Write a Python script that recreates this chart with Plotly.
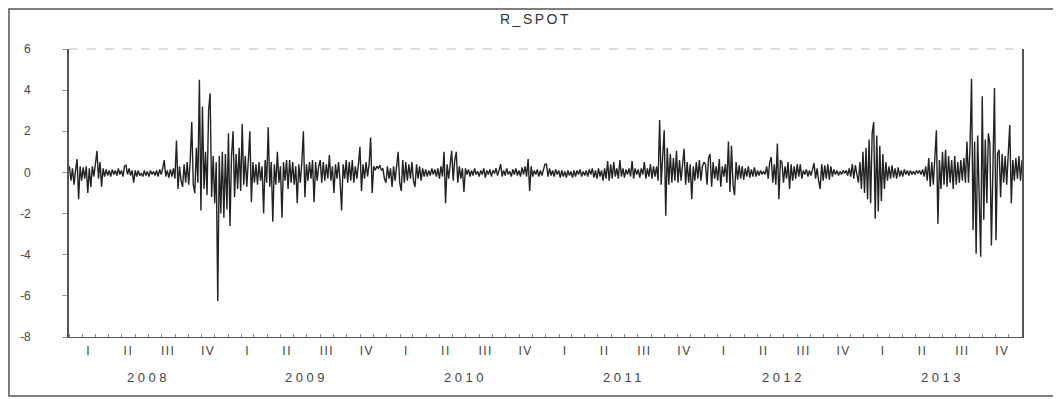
import pandas as pd
import plotly.graph_objects as go

# ---------------- data (~2 obs per week) ----------------
years = [2008, 2009, 2010, 2011, 2012, 2013]
quarters = ["I", "II", "III", "IV"]
y_ticks = [-8, -6, -4, -2, 0, 2, 4, 6]

r_2008 = [0.3, -0.4, 0.2, -0.6, 0.1, 0.65, -1.3, 0.3, -0.4, 0.25, -0.3, 0.3, -1.0, 0.2, -0.7, 0.3,
          -0.2, 0.4, 1.05, -0.3, 0.5, -0.7, 0.2, -0.2, 0.15, -0.15, 0.1, -0.2, 0.15, -0.1, 0.1, -0.15,
          0.2, -0.1, 0.1, -0.2, 0.3, 0.35, -0.1, 0.2, -0.15, 0.1, -0.5, 0.1, -0.2, 0.1, -0.15, -0.05,
          -0.2, 0.1, -0.15, 0.05, -0.2, 0.1, -0.1, 0.05, -0.15, 0.1, -0.2, 0.15, -0.1, 0.2, 0.6, -0.2,
          0.1, -0.25, 0.15, -0.2, 0.2, -0.3, 1.55, -0.8, 0.3, -0.4, -0.7, 0.4, -0.5, 0.5, -0.6, 0.6,
          2.45, -0.6, -1.0, 1.2, -0.5, 4.5, -1.85, 3.2, -0.8, 1.0, -1.1, 3.0, 3.85, -1.2, 0.8, -1.5,
          0.5, -6.25, 0.8, -2.0, 1.0, -2.2, 0.9, -1.8]

r_2009 = [1.9, -2.6, 0.8, 2.0, -1.2, 0.9, -0.8, 1.2, -0.9, 2.35, -0.6, 0.8, -0.7, 0.6, 2.0, -1.45,
          0.5, -0.5, 0.4, -0.6, 0.5, -0.4, 0.3, -2.0, 0.6, -0.5, 2.2, -0.7, 0.5, -2.4, 0.4, -0.6,
          1.0, -0.5, 0.3, -2.2, 0.5, -0.4, 0.6, -0.8, 0.6, -0.5, 0.5, -0.6, 0.3, -1.5, 0.4, -0.5,
          0.5, 2.0, -1.2, 0.4, -0.4, 0.5, -0.3, 0.6, -1.45, 0.5, -0.4, 0.3, 0.6, -0.5, 0.5, -0.4,
          0.4, -0.3, 0.85, -0.4, 0.3, -1.0, 0.4, -0.3, 0.5, -0.4, -1.85, 0.4, -0.3, 0.6, -0.5, 0.5,
          -0.4, 0.6, -0.5, 0.3, -0.3, 0.4, 1.25, -0.9, 0.4, -0.3, 0.5, -0.2, 0.4, 1.7, -1.0, 0.3,
          0.1, 0.3, 0.2, 0.35, 0.1, 0.2, -0.3, -0.5]

r_2010 = [0.3, -0.3, 0.2, -0.7, 0.3, -0.4, 0.5, 1.0, -0.5, -0.9, 0.6, -0.5, 0.5, -0.4, 0.4, -0.3,
          0.5, -0.4, -0.7, 0.4, -0.3, 0.3, -0.4, 0.2, -0.2, 0.15, -0.2, 0.1, -0.15, 0.2, -0.1, 0.15,
          -0.2, 0.2, -0.3, 0.3, -0.2, 1.0, -1.5, 0.4, -0.3, 0.5, 1.05, -0.4, 0.6, 1.0, -0.5, 0.3,
          -0.3, 0.2, -0.95, 0.2, -0.1, 0.15, -0.2, 0.1, -0.15, 0.2, -0.1, 0.05, -0.2, 0.1, -0.1, 0.2,
          -0.25, 0.1, -0.1, 0.15, -0.2, 0.1, -0.05, 0.2, -0.15, 0.1, 0.4, -0.2, 0.1, -0.15, 0.2, -0.1,
          0.05, -0.2, 0.15, -0.1, 0.2, -0.15, 0.1, -0.2, 0.25, -0.1, 0.3, -0.2, 0.65, -0.9, 0.3, -0.2,
          0.1, -0.1, 0.15, -0.2, 0.1, -0.15, 0.2, 0.4]

r_2011 = [0.4, -0.2, 0.2, -0.15, 0.1, -0.2, 0.15, -0.1, 0.1, -0.25, 0.1, -0.2, 0.05, -0.25, 0.1, -0.15,
          0.05, -0.25, 0.1, -0.2, 0.1, -0.1, 0.15, -0.2, 0.05, -0.15, 0.1, -0.2, 0.15, -0.1, 0.2, -0.25,
          0.1, -0.3, 0.2, -0.2, 0.1, -0.4, 0.2, -0.3, 0.55, -0.4, 0.4, -0.3, 0.5, -0.2, 0.2, -0.3,
          0.6, -0.2, 0.2, -0.25, 0.15, -0.1, 0.2, -0.2, 0.55, -0.3, 0.2, -0.1, 0.15, -0.25, 0.2, -0.1,
          0.5, -0.3, 0.2, -0.2, 0.4, -0.3, 0.3, -0.2, 0.3, -0.4, 2.55, -0.6, 0.8, 2.05, -2.1, 1.2,
          -0.6, 0.9, -0.5, 0.7, -0.4, 1.05, -0.5, 0.6, -0.4, 0.5, 1.15, -0.6, 0.5, -0.5, 0.4, -1.3,
          0.3, -0.4, 0.5, -0.3, 0.6, -0.4, 0.3, 0.5]

r_2012 = [0.4, -0.6, 0.7, 0.9, -0.7, 0.5, -0.3, 0.3, -0.4, 0.65, -0.7, 0.3, -0.2, 0.4, -0.5, 1.5,
          -0.95, 1.3, -0.6, -1.1, 0.5, -0.35, 0.35, -0.3, 0.3, -0.35, 0.2, -0.2, 0.3, -0.25, 0.15, -0.2,
          0.25, -0.2, 0.1, -0.15, 0.1, -0.1, 0.05, -0.1, 0.3, -0.3, 0.5, 0.75, -0.5, 0.4, -0.6, 1.4,
          -1.3, 0.6, 0.5, -0.5, 0.3, -0.3, 0.5, -0.8, 0.4, -0.4, 0.3, -0.3, 0.4, -0.2, 0.4, -0.3,
          0.1, -0.1, 0.15, -0.2, 0.1, -0.15, 0.2, 0.45, -0.3, 0.2, -0.4, -0.8, 0.4, -0.4, 0.35, -0.3,
          0.4, -0.35, 0.3, -0.2, 0.15, -0.1, 0.1, -0.15, 0.05, -0.1, 0.1, -0.05, 0.1, -0.15, 0.2, -0.2,
          0.4, -0.3, 0.35, -0.2, -0.5, 0.5, -0.8, 1.0]

r_2013 = [-1.0, 1.2, -1.3, 1.6, -1.5, 1.9, 2.45, -2.25, 1.8, -1.9, 1.3, -1.4, 0.9, -0.8, 0.5, -0.4,
          0.3, -0.3, 0.35, -0.25, 0.2, -0.3, 0.25, -0.2, 0.1, -0.2, 0.15, -0.1, 0.1, -0.15, 0.1, -0.1,
          0.05, -0.1, 0.1, -0.05, 0.1, -0.1, 0.15, -0.2, 0.3, -0.4, 0.7, -0.7, 0.5, -0.6, 0.6, 2.05,
          -2.5, 0.6, -0.8, 1.0, -0.6, 1.1, -0.7, 0.8, -0.5, 0.6, -0.8, 0.8, -0.6, 0.5, -0.5, 0.6,
          -0.4, 0.7, -0.5, 1.5, -0.5, 1.2, 4.55, -2.8, 1.5, -3.95, 1.8, -1.9, -4.1, 3.7, -2.3, 1.6,
          -1.5, 1.9, 1.4, -3.55, 1.5, 4.1, -3.3, 0.9, 1.1, -1.2, 0.9, -0.5, 0.8, -0.6, 0.9, 2.3,
          -1.5, 0.6, -0.4, 0.7, -0.3, 0.8, -0.4, 0.6]

values = r_2008 + r_2009 + r_2010 + r_2011 + r_2012 + r_2013
dates = pd.date_range("2008-01-02", "2013-12-31", periods=len(values))

# ---------------- axis helpers ----------------
q_mid, q_text = [], []
for yr in years:
    for qi, q in enumerate(quarters):
        s = pd.Timestamp(year=yr, month=3 * qi + 1, day=1)
        e = s + pd.DateOffset(months=3)
        q_mid.append(s + (e - s) / 2)
        q_text.append(f'<span style="letter-spacing:1.5px">{q}</span>')
month_starts = list(pd.date_range(f"{years[0]}-01-01", f"{years[-1] + 1}-01-01", freq="MS"))

FONT = "Liberation Sans, Arial, sans-serif"
TXT = "#444444"

fig = go.Figure()
fig.add_trace(go.Scatter(x=dates, y=values, mode="lines",
                         line=dict(color="#222222", width=1.4), showlegend=False,
                         hoverinfo="skip"))

# the page body adds an 8px margin, so the figure is sized to fit the window
fig.update_layout(
    width=1053, height=391,
    margin=dict(l=61, r=39, t=41, b=62, autoexpand=False),
    paper_bgcolor="white", plot_bgcolor="white",
    showlegend=False,
    font=dict(family=FONT, size=12, color=TXT),
)

fig.update_xaxes(
    type="date", automargin=False,
    range=[pd.Timestamp(f"{years[0]}-01-01"), pd.Timestamp(f"{years[-1]}-12-31")],
    tickmode="array", tickvals=q_mid, ticktext=q_text,
    ticks="", ticklabelstandoff=2,
    tickfont=dict(family=FONT, size=12, color=TXT),
    showgrid=False, zeroline=False,
    showline=True, linecolor="#555555", linewidth=1.3, mirror=False,
    minor=dict(tickmode="array", tickvals=month_starts, ticks="inside",
               ticklen=3, tickcolor="#888888", tickwidth=1, showgrid=False),
)

fig.update_yaxes(
    automargin=False,
    range=[y_ticks[0], y_ticks[-1]],
    tickmode="array", tickvals=y_ticks, ticktext=[str(v) for v in y_ticks],
    ticks="outside", ticklen=5, tickcolor="#999999",
    ticklabelstandoff=29,
    tickfont=dict(family=FONT, size=12, color=TXT),
    showgrid=False, zeroline=False,
    showline=True, linecolor="#555555", linewidth=1.6, mirror=True,
)

# faint top border of plot area
fig.add_shape(type="line", xref="paper", yref="paper", x0=0, x1=1, y0=1, y1=1,
              line=dict(color="#bbbbbb", width=1, dash="dash"))

# outer frame
fig.add_shape(type="rect", xref="paper", yref="paper",
              x0=-0.063, x1=1.0378, y0=-0.2049, y1=1.139,
              line=dict(color="#555555", width=1.5))

# title
fig.add_annotation(text='<span style="letter-spacing:2.5px">R_SPOT</span>',
                   xref="paper", yref="paper", x=0.489, y=1.105,
                   showarrow=False, xanchor="center", yanchor="middle",
                   font=dict(family=FONT, size=14, color="#333333"))

# year labels
for yr in years:
    fig.add_annotation(text=f'<span style="letter-spacing:3.5px">{yr}</span>',
                       x=pd.Timestamp(f"{yr}-07-01"), xref="x",
                       y=-0.142, yref="paper",
                       showarrow=False, xanchor="center", yanchor="middle",
                       font=dict(family=FONT, size=13, color=TXT))

fig.write_html("out.html")
